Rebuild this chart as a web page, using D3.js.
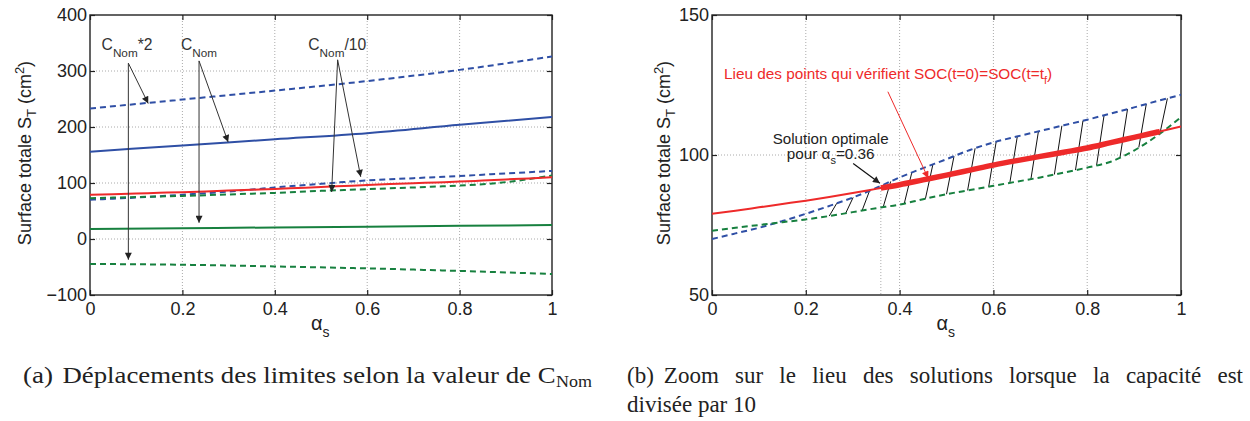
<!DOCTYPE html>
<html>
<head>
<meta charset="utf-8">
<script src="https://cdn.jsdelivr.net/npm/d3@7"></script>
<style>
  body { margin: 0; background: #fff; }
  svg text { font-family: "Liberation Sans", Arial, Helvetica, sans-serif; fill: #222; }
  svg text.caption { font-family: "Liberation Serif", "Times New Roman", Times, serif; fill: #222; }
</style>
</head>
<body>
<svg id="fig" width="1250" height="421"></svg>
<script>
// abscisses alpha_s
const alphaCoarse = [0, 0.2, 0.4, 0.6, 0.8, 1];
const alphaFine = [0, 0.05, 0.1, 0.15, 0.2, 0.25, 0.3, 0.35, 0.4, 0.45, 0.5,
                   0.55, 0.6, 0.65, 0.7, 0.75, 0.8, 0.85, 0.9, 0.95, 1];

// limites pour C_Nom*2 et C_Nom (sur alphaCoarse)
const upperNom2 = [233, 249, 265, 282, 302, 326];
const lowerNom2 = [-44.5, -46, -49, -52.5, -57, -62.5];
const upperNom = [156, 167, 178, 189, 204, 218];
const lowerNom = [18, 19.3, 20.6, 22, 23.5, 25];

// limites pour C_Nom/10 (sur alphaFine)
const upperNom10 = [70, 72, 74, 76.4, 79, 81.8, 84.8, 88.2, 92, 95.3, 98.5,
                    101.8, 104.5, 106.6, 108.6, 110.6, 112.6, 114.8, 117, 119.3, 121.5];
const lowerNom10 = [72.9, 74, 75, 76, 77, 78.2, 79.6, 81, 82.3, 84.2, 86,
                    87.5, 89, 90.5, 92, 93.7, 95.5, 97.6, 101.6, 107, 113.5];
// lieu SOC(t=0)=SOC(t=tf)
const socEqual10 = [79, 80.1, 81.3, 82.5, 83.7, 85, 86.4, 87.9, 89.4, 91.1, 92.8,
                    94.6, 96.4, 98, 99.5, 101, 102.5, 104.4, 106.3, 108.2, 110.2];

const optimum = 0.36;      // solution optimale
const socEnd = 0.955;      // fin du lieu des solutions
const hatchAlpha = [0.25, 0.285, 0.32, 0.365, 0.41, 0.455, 0.5, 0.545, 0.59,
                    0.635, 0.68, 0.73, 0.775, 0.82, 0.87, 0.91, 0.955];
const hatchShift = 0.016;

const xTicks = [0, 0.2, 0.4, 0.6, 0.8, 1];
const yTicksA = [-100, 0, 100, 200, 300, 400];
const yTicksB = [50, 100, 150];

const blue = "#2f4fa5", green = "#17803f", red = "#ee2a2a", ink = "#222";

const svg = d3.select("#fig");
const top0 = 15, bottom0 = 295;

// markers
const defs = svg.append("defs");
function marker(id, color) {
  defs.append("marker")
    .attr("id", id)
    .attr("viewBox", "0 0 10 10")
    .attr("refX", 10).attr("refY", 5)
    .attr("markerUnits", "userSpaceOnUse")
    .attr("markerWidth", 9).attr("markerHeight", 7)
    .attr("orient", "auto")
    .append("path").attr("d", "M0,0L10,5L0,10z").attr("fill", color);
}
marker("arrK", "#222");
marker("arrR", red);

function interp(values, a) {
  return d3.scaleLinear().domain(alphaFine).range(values)(a);
}

// ajuste la taille d'un texte (et de ses tspans) à une largeur donnée
function fit(t, target) {
  const k = target / t.node().getComputedTextLength();
  t.attr("font-size", +t.attr("font-size") * k);
  t.selectAll("tspan").each(function () {
    const s = d3.select(this);
    if (s.attr("font-size")) s.attr("font-size", +s.attr("font-size") * k);
    if (s.attr("dy")) s.attr("dy", +s.attr("dy") * k);
  });
  return t;
}

function panel(id, x0, x1, yDomain, yTicks, labelX) {
  const x = d3.scaleLinear().domain([0, 1]).range([x0, x1]);
  const y = d3.scaleLinear().domain(yDomain).range([bottom0, top0]);
  const g = svg.append("g");

  defs.append("clipPath").attr("id", "clip" + id)
    .append("rect").attr("x", x0).attr("y", top0)
    .attr("width", x1 - x0).attr("height", bottom0 - top0);

  // grille pointillée
  const grid = g.append("g").attr("class", "grid").attr("stroke", "#aaa").attr("stroke-width", 1)
    .attr("stroke-dasharray", "1,2");
  grid.selectAll(".gx").data(xTicks.slice(1, -1)).enter().append("line")
    .attr("x1", d => x(d)).attr("x2", d => x(d))
    .attr("y1", top0).attr("y2", bottom0);
  grid.selectAll(".gy").data(yTicks.slice(1, -1)).enter().append("line")
    .attr("x1", x0).attr("x2", x1)
    .attr("y1", d => y(d)).attr("y2", d => y(d));

  // axes
  const fmt = d3.format("~g");
  const styleAxis = sel => {
    sel.select(".domain").remove();
    sel.selectAll("line").attr("stroke", ink).attr("stroke-width", 1.2);
    sel.attr("font-size", 18).attr("font-family", "Liberation Sans, Arial, sans-serif");
    sel.selectAll("text").attr("fill", ink);
  };
  g.append("g").attr("transform", `translate(0,${bottom0})`)
    .call(d3.axisBottom(x).tickValues(xTicks).tickFormat(fmt).tickSize(-5).tickPadding(7))
    .call(styleAxis);
  g.append("g").attr("transform", `translate(0,${top0})`)
    .call(d3.axisTop(x).tickValues(xTicks).tickFormat("").tickSize(-5))
    .call(styleAxis);
  g.append("g").attr("transform", `translate(${x0},0)`)
    .call(d3.axisLeft(y).tickValues(yTicks).tickFormat(fmt).tickSize(-5).tickPadding(3))
    .call(styleAxis);
  g.append("g").attr("transform", `translate(${x1},0)`)
    .call(d3.axisRight(y).tickValues(yTicks).tickFormat("").tickSize(-5))
    .call(styleAxis);

  g.append("rect").attr("x", x0).attr("y", top0)
    .attr("width", x1 - x0).attr("height", bottom0 - top0)
    .attr("fill", "none").attr("stroke", ink).attr("stroke-width", 1.4);

  // libellé axe y
  const yl = g.append("text")
    .attr("transform", `translate(${labelX},${(top0 + bottom0) / 2 - 2}) rotate(-90)`)
    .attr("text-anchor", "middle").attr("font-size", 18);
  yl.append("tspan").text("Surface totale S");
  yl.append("tspan").attr("font-size", 13).attr("dy", 5).text("T");
  yl.append("tspan").attr("dy", -5).text(" (cm");
  yl.append("tspan").attr("font-size", 13).attr("dy", -7).text("2");
  yl.append("tspan").attr("dy", 7).text(")");

  // libellé axe x
  const xl = g.append("text")
    .attr("x", (x0 + x1) / 2 - 10).attr("y", 330).attr("font-size", 20);
  xl.append("tspan").text("α");
  xl.append("tspan").attr("font-size", 14).attr("dy", 7).text("s");

  const plot = g.append("g").attr("clip-path", `url(#clip${id})`);
  return { x, y, g, plot };
}

function curve(p, xs, ys, color, dashed, width) {
  const line = d3.line().x(d => p.x(d[0])).y(d => p.y(d[1])).curve(d3.curveMonotoneX);
  p.plot.append("path")
    .datum(xs.map((a, i) => [a, ys[i]]))
    .attr("d", line)
    .attr("fill", "none")
    .attr("stroke", color)
    .attr("stroke-width", width || 2)
    .attr("stroke-dasharray", dashed ? "6,4" : null);
}

function arrow(p, from, to, color, markerId, width) {
  p.g.append("line")
    .attr("x1", p.x(from[0])).attr("y1", p.y(from[1]))
    .attr("x2", p.x(to[0])).attr("y2", p.y(to[1]))
    .attr("stroke", color).attr("stroke-width", width || 1)
    .attr("marker-end", `url(#${markerId})`);
}

// (a) panneau gauche
const pa = panel("a", 90, 552, [-100, 400], yTicksA, 31);
curve(pa, alphaCoarse, upperNom2, blue, true);
curve(pa, alphaCoarse, lowerNom2, green, true);
curve(pa, alphaFine, upperNom10, blue, true);
curve(pa, alphaFine, lowerNom10, green, true);
curve(pa, alphaCoarse, upperNom, blue, false);
curve(pa, alphaCoarse, lowerNom, green, false);
curve(pa, alphaFine, socEqual10, red, false);

// étiquettes C_Nom
const cLabels = [
  { at: [0.025, 337.5], suffix: "*2", w: 51, from: [0.083, 314], to: [[0.126, 242], [0.083, -37]] },
  { at: [0.197, 337.5], suffix: "", w: 36, from: [0.236, 318], to: [[0.299, 173], [0.236, 29]] },
  { at: [0.4725, 337.5], suffix: "/10", w: 58, from: [0.536, 320], to: [[0.523, 84], [0.586, 111]] }
];
cLabels.forEach(c => {
  const t = pa.g.append("text").attr("x", pa.x(c.at[0])).attr("y", pa.y(c.at[1]))
    .attr("font-size", 16).style("fill", "#333");
  t.append("tspan").text("C");
  t.append("tspan").attr("font-size", 12).attr("dy", 7).text("Nom");
  if (c.suffix) t.append("tspan").attr("dy", -7).text(c.suffix);
  fit(t, c.w);
  c.to.forEach(tg => arrow(pa, c.from, tg, "#333", "arrK", 1));
});

// (b) panneau droit (zoom)
const pb = panel("b", 712, 1181, [50, 150], yTicksB, 670);

// repère vertical de la solution optimale
pb.g.select(".grid").append("line")
  .attr("x1", pb.x(optimum)).attr("x2", pb.x(optimum))
  .attr("y1", pb.y(interp(socEqual10, optimum))).attr("y2", bottom0);

// hachures entre les limites
pb.plot.selectAll(".hatch").data(hatchAlpha).enter().append("line")
  .attr("x1", a => pb.x(a)).attr("y1", a => pb.y(interp(lowerNom10, a)))
  .attr("x2", a => pb.x(a + hatchShift)).attr("y2", a => pb.y(interp(upperNom10, a + hatchShift)))
  .attr("stroke", "#111").attr("stroke-width", 1);

curve(pb, alphaFine, upperNom10, blue, true);
curve(pb, alphaFine, lowerNom10, green, true);
curve(pb, alphaFine, socEqual10, red, false);

// lieu des solutions (trait épais)
const segA = [optimum].concat(alphaFine.filter(a => a > optimum && a < socEnd), [socEnd]);
curve(pb, segA, segA.map(a => interp(socEqual10, a)), red, false, 5.5);

// annotations
const rt = pb.g.append("text").attr("x", pb.x(0.0256)).attr("y", pb.y(127.1))
  .attr("font-size", 15.7).style("fill", red);
rt.append("tspan").text("Lieu des points qui vérifient SOC(t=0)=SOC(t=t");
rt.append("tspan").attr("font-size", 11).attr("dy", 5).text("f");
rt.append("tspan").attr("dy", -5).text(")");
fit(rt, 328);
arrow(pb, [0.375, 122.6], [0.461, 91.7], red, "arrR", 1);

const so = pb.g.append("text").attr("x", pb.x(0.253)).attr("y", pb.y(104))
  .attr("text-anchor", "middle").attr("font-size", 15.3).text("Solution optimale");
fit(so, 116);
const st = pb.g.append("text").attr("x", pb.x(0.253)).attr("y", pb.y(98.4))
  .attr("text-anchor", "middle").attr("font-size", 15.3);
st.append("tspan").text("pour α");
st.append("tspan").attr("font-size", 11).attr("dy", 5).text("s");
st.append("tspan").attr("dy", -5).text("=0.36");
fit(st, 88);
arrow(pb, [0.301, 97], [0.358, 89.9], "#111", "arrK", 1.2);

// légendes (sous-figures)
function caption(x, y, text, size) {
  return svg.append("text").attr("class", "caption").attr("x", x).attr("y", y)
    .attr("font-size", size || 23).text(text);
}
caption(23, 383, "(a)").attr("textLength", 30).attr("lengthAdjust", "spacingAndGlyphs");
caption(62.5, 383, "Déplacements des limites selon la valeur de C")
  .attr("textLength", 493).attr("lengthAdjust", "spacingAndGlyphs");
caption(556, 387, "Nom", 16.5).attr("textLength", 36).attr("lengthAdjust", "spacingAndGlyphs");

const lb = caption(627, 383, "(b)");
const startB = 627 + lb.node().getComputedTextLength() + 10;
const cb = caption(startB, 383, "Zoom sur le lieu des solutions lorsque la capacité est");
const natural = cb.node().getComputedTextLength();
const spaces = cb.text().split(" ").length - 1;
cb.attr("word-spacing", (1243 - startB - natural) / spaces);
caption(627, 412, "divisée par 10");
</script>
</body>
</html>
